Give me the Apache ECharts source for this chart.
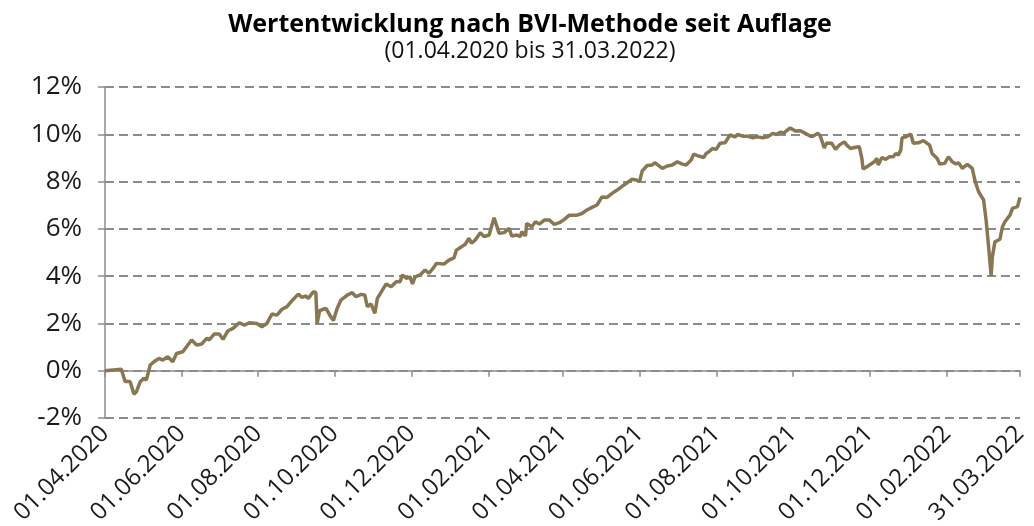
<!DOCTYPE html>
<html>
<head>
<meta charset="utf-8">
<script src="https://cdn.jsdelivr.net/npm/echarts@6/dist/echarts.min.js"></script>
<style>
    html, body { margin: 0; padding: 0; background: #fff; }
    #chart { width: 1034px; height: 526px; }
</style>
</head>
<body>
<div id="chart"></div>
<script>
// Tage seit Auflage (01.04.2020)
const tage = [
    0, 13, 16, 20, 23, 25, 28, 31, 33, 36, 39, 43, 46, 50, 54, 57, 62, 66, 69, 73,
    77, 81, 83, 87, 91, 94, 98, 102, 107, 111, 115, 121, 125, 129, 133, 137, 141, 145, 149, 154,
    157, 160, 162, 166, 168, 169, 171, 174, 176, 179, 182, 185, 188, 193, 197, 200, 204, 207, 209, 212,
    215, 217, 221, 224, 228, 232, 235, 237, 240, 243, 245, 247, 251, 255, 258, 262, 264, 270, 274, 278,
    280, 284, 287, 290, 292, 295, 299, 302, 306, 310, 314, 318, 322, 324, 328, 331, 332, 335, 336, 340,
    343, 346, 350, 354, 358, 362, 366, 370, 376, 380, 384, 388, 392, 396, 400, 404, 408, 412, 416, 420,
    422, 426, 428, 432, 436, 438, 444, 448, 452, 456, 460, 463, 467, 469, 473, 477, 479, 482, 484, 487,
    490, 494, 498, 502, 504, 508, 512, 516, 520, 524, 528, 532, 535, 538, 541, 543, 546, 550, 554, 558,
    562, 564, 568, 570, 573, 575, 579, 582, 585, 589, 591, 594, 598, 601, 603, 604, 607, 610, 613, 615,
    616, 619, 622, 625, 628, 630, 632, 634, 635, 638, 642, 644, 648, 652, 657, 659, 663, 665, 669, 672,
    675, 678, 680, 683, 687, 691, 693, 696, 700, 702, 704, 706, 707, 709, 713, 715, 717, 721, 723, 727,
    729
];

// Wertentwicklung in %
const werte = [
    0.00, 0.06, -0.46, -0.46, -0.99, -0.89, -0.47, -0.32, -0.39, 0.24, 0.38, 0.52, 0.45, 0.59, 0.38, 0.73, 0.80, 1.09, 1.30, 1.09,
    1.13, 1.37, 1.30, 1.55, 1.55, 1.33, 1.69, 1.79, 2.03, 1.93, 2.03, 2.00, 1.86, 2.00, 2.40, 2.35, 2.60, 2.71, 2.96, 3.24,
    3.10, 3.16, 3.06, 3.34, 3.30, 2.00, 2.54, 2.60, 2.64, 2.36, 2.12, 2.64, 2.99, 3.20, 3.30, 3.13, 3.23, 3.20, 2.71, 2.82,
    2.43, 3.06, 3.41, 3.67, 3.55, 3.76, 3.76, 4.05, 3.91, 3.97, 3.67, 3.97, 4.05, 4.26, 4.12, 4.37, 4.54, 4.51, 4.68, 4.77,
    5.10, 5.24, 5.35, 5.60, 5.39, 5.53, 5.84, 5.67, 5.74, 6.47, 5.81, 5.84, 6.02, 5.70, 5.74, 5.67, 5.88, 5.70, 6.23, 6.09,
    6.30, 6.20, 6.37, 6.37, 6.19, 6.26, 6.40, 6.58, 6.58, 6.65, 6.80, 6.91, 7.01, 7.35, 7.33, 7.50, 7.64, 7.80, 7.95, 8.10,
    8.08, 8.02, 8.45, 8.68, 8.70, 8.80, 8.56, 8.66, 8.70, 8.84, 8.74, 8.70, 8.91, 9.16, 9.08, 9.02, 9.19, 9.30, 9.40, 9.36,
    9.62, 9.64, 9.97, 9.89, 9.99, 9.92, 9.92, 9.85, 9.89, 9.85, 9.89, 10.04, 9.99, 10.09, 10.06, 10.15, 10.27, 10.14, 10.15, 10.04,
    9.92, 9.92, 10.04, 9.92, 9.42, 9.63, 9.62, 9.36, 9.54, 9.68, 9.54, 9.40, 9.45, 9.47, 8.98, 8.53, 8.63, 8.73, 8.84, 8.98,
    8.70, 9.02, 8.94, 9.05, 9.05, 9.19, 9.12, 9.33, 9.85, 9.89, 10.01, 9.62, 9.64, 9.73, 9.54, 9.19, 8.98, 8.74, 8.77, 9.05,
    8.84, 8.74, 8.80, 8.56, 8.73, 8.56, 8.06, 7.57, 7.22, 6.37, 5.24, 4.02, 4.82, 5.45, 5.56, 6.09, 6.30, 6.58, 6.87, 6.94,
    7.33
];

// Beschriftete Stichtage der Zeitachse [Jahr, Monat (0-basiert), Tag]
const stichtage = [
    [2020, 3, 1], [2020, 5, 1], [2020, 7, 1], [2020, 9, 1], [2020, 11, 1],
    [2021, 1, 1], [2021, 3, 1], [2021, 5, 1], [2021, 7, 1], [2021, 9, 1], [2021, 11, 1],
    [2022, 1, 1], [2022, 2, 31]
];

const yTicks = [-2, 0, 2, 4, 6, 8, 10, 12];

const TAG_MS = 86400000;
const start = Date.UTC(2020, 3, 1);
const daten = tage.map((t, i) => [t, werte[i]]);
const labelTage = stichtage.map(d => Math.round((Date.UTC(d[0], d[1], d[2]) - start) / TAG_MS));
const xMax = labelTage[labelTage.length - 1];

function datumFormat(t) {
    const d = new Date(start + Math.round(t) * TAG_MS);
    const p = n => (n < 10 ? '0' + n : '' + n);
    return p(d.getUTCDate()) + '.' + p(d.getUTCMonth() + 1) + '.' + d.getUTCFullYear();
}

const GRAU = '#8c8c8c';
const FONT = '"Open Sans", "Noto Sans", sans-serif';

const myChart = echarts.init(document.getElementById('chart'));

const option = {
    animation: false,
    title: {
        text: 'Wertentwicklung nach BVI-Methode seit Auflage',
        subtext: '(01.04.2020 bis 31.03.2022)',
        left: 525,
        textAlign: 'center',
        top: 7,
        itemGap: 3,
        textStyle: {
            fontFamily: FONT,
            fontSize: 25,
            fontWeight: 'bold',
            color: '#000'
        },
        subtextStyle: {
            fontFamily: FONT,
            fontSize: 23,
            color: '#111'
        }
    },
    grid: {
        left: 105,
        right: 14,
        top: 87,
        bottom: 108,
        outerBoundsMode: 'none'
    },
    xAxis: [
        {
            // Beschriftung unten
            type: 'value',
            min: 0,
            max: xMax,
            position: 'bottom',
            axisLine: { show: false, onZero: false },
            axisTick: { show: false },
            splitLine: { show: false },
            axisLabel: {
                customValues: labelTage,
                rotate: 45,
                margin: 12,
                fontFamily: FONT,
                fontSize: 24,
                color: '#1a1a1a',
                formatter: v => datumFormat(v),
                hideOverlap: false
            }
        },
        {
            // Achsenlinie auf der Null-Linie
            type: 'value',
            min: 0,
            max: xMax,
            position: 'top',
            axisLine: { show: true, onZero: true, lineStyle: { color: GRAU, width: 1.5 } },
            axisTick: {
                show: true,
                inside: true,
                length: 6,
                customValues: labelTage,
                lineStyle: { color: GRAU, width: 1.5 }
            },
            axisLabel: { show: false },
            splitLine: { show: false }
        }
    ],
    yAxis: {
        type: 'value',
        min: yTicks[0],
        max: yTicks[yTicks.length - 1],
        interval: 2,
        axisLine: { show: true, lineStyle: { color: GRAU, width: 1.5 } },
        axisTick: { show: true, length: 7, lineStyle: { color: GRAU, width: 1.5 } },
        axisLabel: {
            fontFamily: FONT,
            fontSize: 26,
            color: '#1a1a1a',
            margin: 23,
            formatter: '{value}%'
        },
        splitLine: {
            show: true,
            lineStyle: { color: GRAU, width: 1.8, type: [9, 5] }
        }
    },
    series: [
        {
            name: 'Wertentwicklung',
            type: 'line',
            xAxisIndex: 0,
            data: daten,
            showSymbol: false,
            lineStyle: { color: '#877752', width: 3.5 },
            itemStyle: { color: '#877752' },
            z: 5
        }
    ]
};

myChart.setOption(option);
window.addEventListener('resize', () => myChart.resize());
</script>
</body>
</html>
